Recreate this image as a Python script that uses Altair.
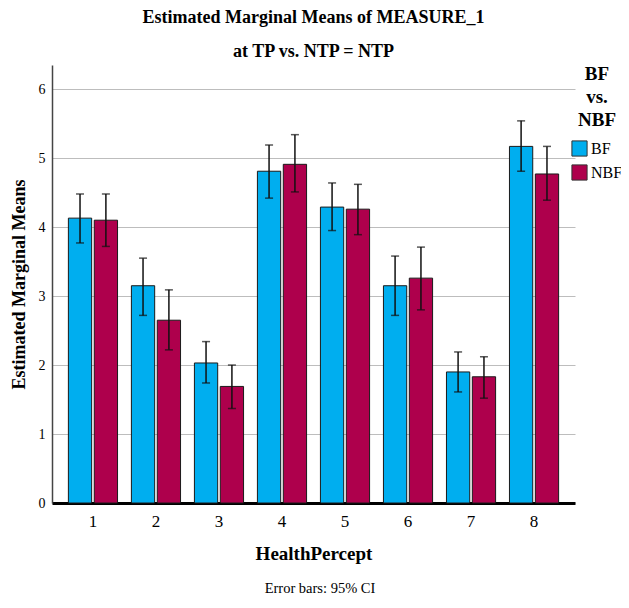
import altair as alt
import pandas as pd

categories = ["1", "2", "3", "4", "5", "6", "7", "8"]
groups = ["BF", "NBF"]
bf_mean = [4.13, 3.15, 2.03, 4.81, 4.29, 3.15, 1.90, 5.17]
bf_lo = [3.77, 2.72, 1.74, 4.42, 3.95, 2.72, 1.61, 4.81]
bf_hi = [4.48, 3.55, 2.34, 5.19, 4.64, 3.58, 2.19, 5.54]
nbf_mean = [4.10, 2.65, 1.69, 4.91, 4.26, 3.26, 1.83, 4.77]
nbf_lo = [3.72, 2.22, 1.37, 4.51, 3.89, 2.80, 1.52, 4.39]
nbf_hi = [4.48, 3.09, 2.00, 5.34, 4.62, 3.71, 2.12, 5.17]

rows = []
for i, c in enumerate(categories):
    rows.append({"cat": c, "grp": "BF", "mean": bf_mean[i], "lo": bf_lo[i], "hi": bf_hi[i]})
    rows.append({"cat": c, "grp": "NBF", "mean": nbf_mean[i], "lo": nbf_lo[i], "hi": nbf_hi[i]})
df = pd.DataFrame(rows)

SERIF = "Liberation Serif"
W, H = 523, 438

xenc = alt.X("cat:N", sort=categories,
             scale=alt.Scale(paddingInner=0.22, paddingOuter=0.26),
             axis=alt.Axis(title="HealthPercept", labelAngle=0, ticks=False,
                           labelFont=SERIF, labelFontSize=17, labelColor="#000",
                           labelPadding=10, titleFont=SERIF, titleFontSize=19,
                           titleFontWeight="bold", titleColor="#000", titlePadding=15,
                           domainColor="#000", domainWidth=3))
xoff = alt.XOffset("grp:N", sort=groups, scale=alt.Scale(paddingInner=0.1))
yscale = alt.Scale(domain=[0, 6.35], nice=False)

bars = alt.Chart(df).mark_bar(stroke="#1a1a1a", strokeWidth=1).encode(
    x=xenc,
    xOffset=xoff,
    y=alt.Y("mean:Q", scale=yscale,
            axis=alt.Axis(title="Estimated Marginal Means", values=[0, 1, 2, 3, 4, 5, 6],
                          format="d",
                          ticks=False, grid=True, gridColor="#bdbdbd", gridWidth=1,
                          labelFont=SERIF, labelFontSize=14, labelColor="#000",
                          labelPadding=7, titleFont=SERIF, titleFontSize=18,
                          titleFontWeight="bold", titleColor="#000", titlePadding=10,
                          domainColor="#444", domainWidth=1.5)),
    color=alt.Color("grp:N", sort=groups,
                    scale=alt.Scale(domain=groups, range=["#00AEEF", "#AE004C"]),
                    legend=alt.Legend(title=["BF", "vs.", "NBF"], orient="none",
                                      legendX=519, legendY=0,
                                      titleFont=SERIF, titleFontSize=19, titleFontWeight="bold",
                                      titleColor="#000", titleAlign="center", titleAnchor="middle",
                                      titleLineHeight=23, titlePadding=10,
                                      labelFont=SERIF, labelFontSize=16, labelColor="#000",
                                      symbolType="square", symbolSize=230,
                                      symbolStrokeColor="#333", symbolStrokeWidth=1,
                                      labelOffset=3, rowPadding=3)),
)

rules = alt.Chart(df).mark_rule(color="#111", strokeWidth=1.5).encode(
    x=alt.X("cat:N", sort=categories), xOffset=xoff,
    y=alt.Y("lo:Q", scale=yscale), y2="hi:Q",
)
caps_hi = alt.Chart(df).mark_tick(color="#111", thickness=1.5, size=8, orient="horizontal").encode(
    x=alt.X("cat:N", sort=categories), xOffset=xoff, y=alt.Y("hi:Q", scale=yscale),
)
caps_lo = alt.Chart(df).mark_tick(color="#111", thickness=1.5, size=8, orient="horizontal").encode(
    x=alt.X("cat:N", sort=categories), xOffset=xoff, y=alt.Y("lo:Q", scale=yscale),
)
note = alt.Chart(pd.DataFrame({"t": ["Error bars: 95% CI"]})).mark_text(
    font=SERIF, fontSize=14.5, color="#000", align="center", baseline="middle"
).encode(text="t:N", x=alt.value(268), y=alt.value(524))

chart = alt.layer(bars, rules, caps_hi, caps_lo, note).properties(
    width=W, height=H,
    padding={"left": 44, "top": 57, "right": 46, "bottom": 96},
    autosize=alt.AutoSizeParams(type="none"),
    title=alt.Title(["Estimated Marginal Means of MEASURE_1", "at TP vs. NTP = NTP"],
                    font=SERIF, fontSize=18, fontWeight="bold", color="#000",
                    lineHeight=34, anchor="middle", offset=4),
).configure(font=SERIF).configure_view(stroke=None)

chart.save("out.html", embed_options={"renderer": "svg", "actions": False})
